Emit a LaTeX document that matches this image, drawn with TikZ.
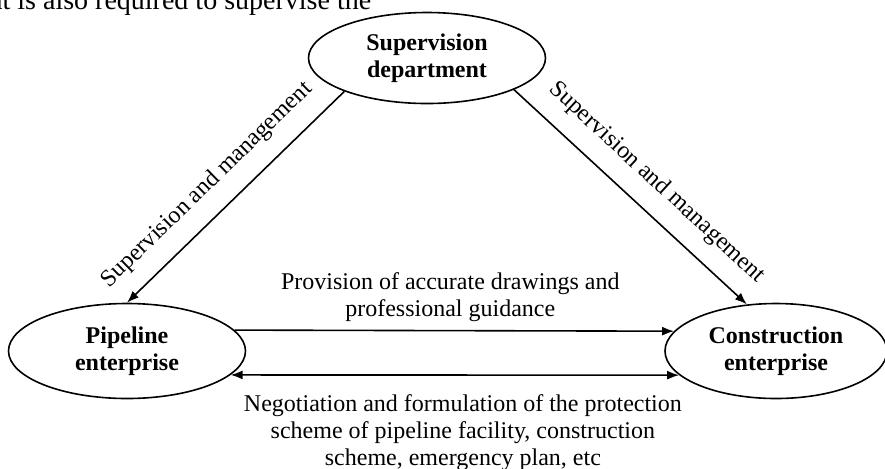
\documentclass[tikz,border=0pt]{standalone}
\usepackage{fontspec}
\setmainfont{Liberation Serif}
\usetikzlibrary{shapes.geometric}
\usetikzlibrary{arrows.meta}

\begin{document}
\begin{tikzpicture}[x=0.5pt,y=-0.5pt,
                      line width=0.8pt,
                      >={Latex[length=6pt,width=4.5pt]},
                      main node/.style={ellipse,draw,align=center,inner sep=0pt,font=\fontsize{12}{13.5}\selectfont\bfseries},
                      edge label/.style={align=center,font=\fontsize{12}{13.5}\selectfont}]

        \clip (0,0) rectangle (885,468);

        % page text above the figure
        \node[anchor=base east,inner sep=0pt,font=\fontsize{14}{16}\selectfont] (pagetext) at (372,9) {nt is also required to supervise the};

        \node[main node,minimum width=118.5pt,minimum height=45.5pt] (sup) at (427,58) {Supervision\\department};
        \node[main node,minimum width=118.5pt,minimum height=47.5pt] (pipe) at (127,351) {Pipeline\\enterprise};
        \node[main node,minimum width=111pt,minimum height=47.5pt] (cons) at (776,351) {Construction\\enterprise};

        \path[->,every node/.style={edge label}]
        (sup.202) edge node[pos=0.54,sloped,above=5pt] {Supervision and management} (pipe.north)
        (sup.340) edge node[pos=0.53,sloped,above=5pt] {Supervision and management} (cons.122)
        (pipe.11) edge node[above=1pt,xshift=-2pt] {Provision of accurate drawings and\\professional guidance} (cons.169)
        (pipe.347) edge[<->] node[below=6pt,xshift=4pt] {Negotiation and formulation of the protection\\scheme of pipeline facility, construction\\scheme, emergency plan, etc} (cons.194)
        ;

        % \path[dashed]
        % (pipe) edge [bend right] (cons)
        % ;
    \end{tikzpicture}
\end{document}
